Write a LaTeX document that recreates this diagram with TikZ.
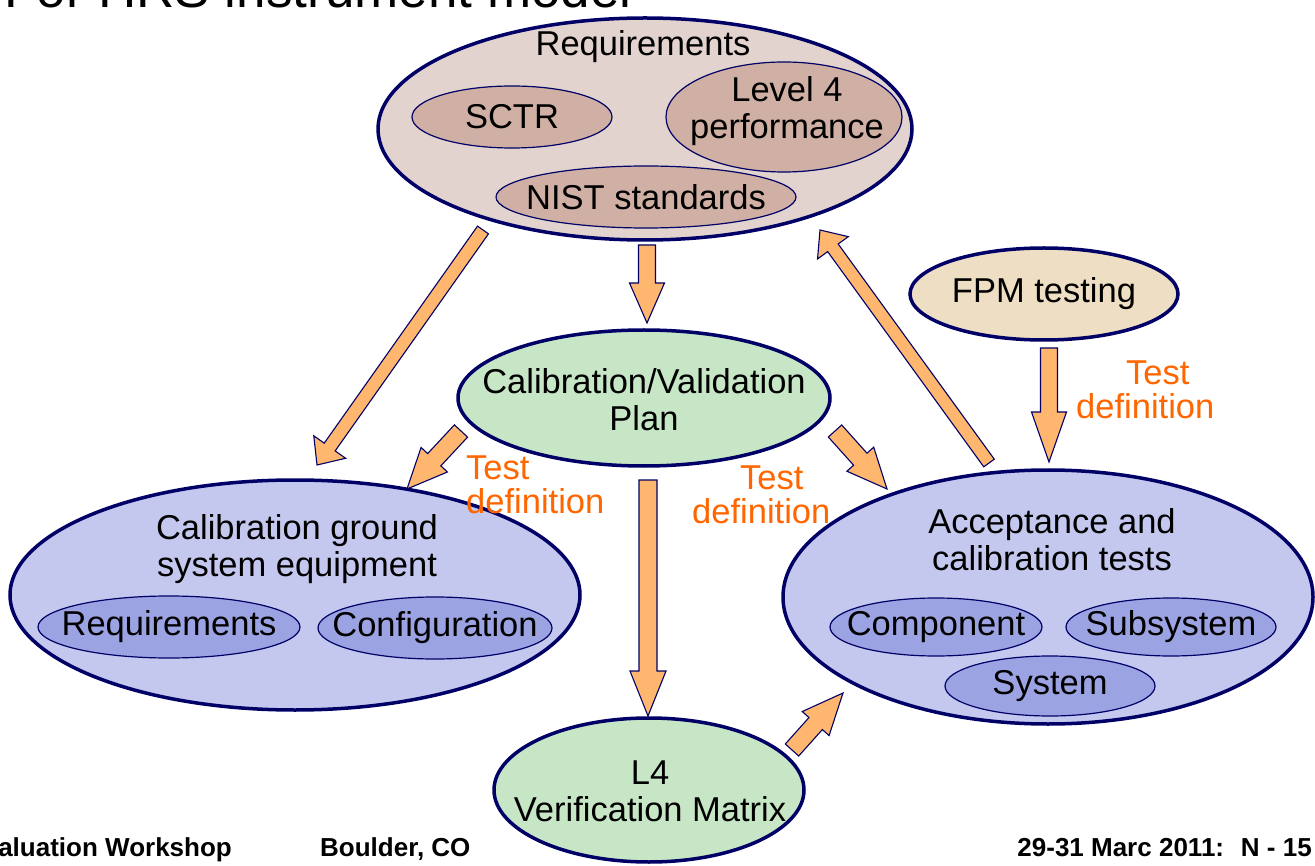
\documentclass[tikz,border=0pt]{standalone}
\usepackage{fontspec}
\setmainfont{Liberation Sans}
\usetikzlibrary{shapes.geometric,calc}

\definecolor{navy}{HTML}{000066}
\definecolor{reqfill}{HTML}{E3D3CE}
\definecolor{reqsub}{HTML}{D0B0A4}
\definecolor{planfill}{HTML}{C6E6C6}
\definecolor{fpmfill}{HTML}{EEDEC4}
\definecolor{lavfill}{HTML}{C4C8EE}
\definecolor{lavsub}{HTML}{9CA3E2}
\definecolor{arrowfill}{HTML}{FFB66E}
\definecolor{testorange}{HTML}{FF6600}

\tikzset{
  bigell/.style={ellipse, draw=navy, line width=3.5pt, inner sep=0pt},
  subell/.style={ellipse, draw=navy, line width=1.2pt, inner sep=0pt},
  lbl/.style={font=\fontsize{34.5}{37}\selectfont, align=center, inner sep=0pt},
  testlbl/.style={font=\fontsize{34.5}{34.5}\selectfont, text=testorange, inner sep=0pt, align=left, anchor=west},
  footer/.style={font=\fontsize{26}{28}\selectfont\bfseries, inner sep=0pt},
  barrow/.style={fill=arrowfill, draw=navy, line width=1.1pt, line join=miter},
}

% block arrow: from, to, shaft half width, head half width, head length
\newcommand{\blockarrow}[5]{%
  \coordinate (ba-p) at ($(#2)!#5!(#1)$);
  \draw[barrow] ($(#1)!#3!90:(#2)$) -- ($(ba-p)!#3!-90:(#1)$)
    -- ($(ba-p)!#4!-90:(#1)$) -- (#2) -- ($(ba-p)!#4!90:(#1)$)
    -- ($(ba-p)!#3!90:(#1)$) -- ($(#1)!#3!-90:(#2)$) -- cycle;
}

\begin{document}
\begin{tikzpicture}[x=1pt, y=-1pt]
\useasboundingbox (0,0) rectangle (1315,866);

% slide title, cut by the top edge
\node[font=\fontsize{53}{58}\selectfont, anchor=base west, inner sep=0pt] (title) at (4,8) {For HRS instrument model};

% Requirements
\node[bigell, fill=reqfill, minimum width=534pt, minimum height=222pt] (req) at (645,129) {};
\node[lbl] (reqlbl) at (643,47) {Requirements};
\node[subell, fill=reqsub, minimum width=200pt, minimum height=62pt] (sctr) at (512,117) {};
\node[lbl] at (sctr) {SCTR};
\node[subell, fill=reqsub, minimum width=236pt, minimum height=110pt] (lvl) at (784,117) {};
\node[lbl] at (787,111) {Level 4\\performance};
\node[subell, fill=reqsub, minimum width=300pt, minimum height=62pt] (nist) at (646,197) {};
\node[lbl] at (nist) {NIST standards};

% Calibration/Validation plan
\node[bigell, fill=planfill, minimum width=372pt, minimum height=136pt] (plan) at (644,398) {};
\node[lbl] at (644,400) {Calibration/Validation\\Plan};

% FPM testing
\node[bigell, fill=fpmfill, minimum width=268pt, minimum height=92pt] (fpm) at (1044,294) {};
\node[lbl] at (fpm) {FPM testing};

% Calibration ground system equipment
\node[bigell, fill=lavfill, minimum width=570pt, minimum height=230pt] (gse) at (295,595) {};
\node[lbl] at (297,549) {Calibration ground\\system equipment};
\node[subell, fill=lavsub, minimum width=262pt, minimum height=62pt] (gsereq) at (169,627) {};
\node[lbl] at (gsereq) {Requirements};
\node[subell, fill=lavsub, minimum width=234pt, minimum height=62pt] (gsecfg) at (435,628) {};
\node[lbl] at (gsecfg) {Configuration};

% Acceptance and calibration tests
\node[bigell, fill=lavfill, minimum width=530pt, minimum height=254pt] (acc) at (1048,597) {};
\node[lbl] at (1052,540) {Acceptance and\\calibration tests};
\node[subell, fill=lavsub, minimum width=212pt, minimum height=58pt] (comp) at (936,627) {};
\node[lbl] at (comp) {Component};
\node[subell, fill=lavsub, minimum width=210pt, minimum height=58pt] (subs) at (1171,627) {};
\node[lbl] at (subs) {Subsystem};
\node[subell, fill=lavsub, minimum width=210pt, minimum height=60pt] (sys) at (1050,686) {};
\node[lbl] at (sys) {System};

% L4 verification matrix
\node[bigell, fill=planfill, minimum width=310pt, minimum height=144pt] (l4) at (649,790) {};
\node[lbl] at (650,791) {L4\\Verification Matrix};

% arrow end points
\coordinate (a1s) at (483,230);  \coordinate (a1e) at (317,465);
\coordinate (a2s) at (647,245);  \coordinate (a2e) at (647,323);
\coordinate (a3s) at (461,431);  \coordinate (a3e) at (407,489);
\coordinate (a4s) at (835,431);  \coordinate (a4e) at (887,489);
\coordinate (a5s) at (648,480);  \coordinate (a5e) at (648,716);
\coordinate (a6s) at (792,750);  \coordinate (a6e) at (843,693);
\coordinate (a7s) at (989,463);  \coordinate (a7e) at (820,230);
\coordinate (a8s) at (1049,348); \coordinate (a8e) at (1049,462);

\blockarrow{a1s}{a1e}{6.7pt}{19.5pt}{22pt}
\blockarrow{a2s}{a2e}{8.5pt}{17.5pt}{40pt}
\blockarrow{a3s}{a3e}{9pt}{18pt}{40pt}
\blockarrow{a4s}{a4e}{9pt}{18pt}{40pt}
\blockarrow{a5s}{a5e}{9pt}{18pt}{45pt}
\blockarrow{a6s}{a6e}{9pt}{18pt}{41pt}
\blockarrow{a7s}{a7e}{6.5pt}{19pt}{22pt}
\blockarrow{a8s}{a8e}{8.5pt}{17.5pt}{50pt}

% test definition labels
\node[testlbl] (t1) at (466,485) {Test\\definition};
\node[testlbl] (t2) at (692,495) {\hspace*{48pt}Test\\definition};
\node[testlbl] (t3) at (1076,390) {\hspace*{50pt}Test\\definition};

% footer
\node[footer, anchor=base east] (f1) at (232,856) {Evaluation Workshop};
\node[footer, anchor=base west] (f2) at (320,856) {Boulder, CO};
\node[footer, anchor=base east] (f3) at (1312,856) {29-31 Marc 2011:~ N - 15};
\end{tikzpicture}
\end{document}
